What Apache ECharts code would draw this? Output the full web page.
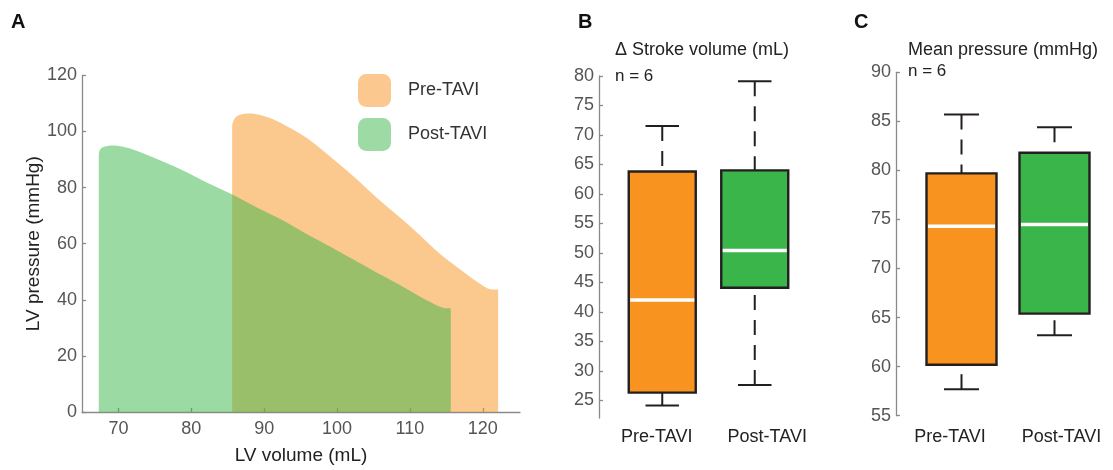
<!DOCTYPE html>
<html>
<head>
<meta charset="utf-8">
<script src="https://cdn.jsdelivr.net/npm/echarts@6/dist/echarts.min.js"></script>
<style>
  html, body { margin: 0; padding: 0; background: #fff; }
  #main { width: 1113px; height: 470px; }
</style>
</head>
<body>
<div id="main"></div>
<script>
// A: pressure-volume loops (upper edge, closed to 0)
var preVolume = [85.6, 85.6, 86.0, 86.7, 88.1, 90.8, 93.1, 95.8, 99.0, 102.2, 105.4, 108.6, 111.4, 114.1, 116.9, 119.6, 121.2, 122.1, 122.1];
var prePressure = [0, 101.9, 104.8, 106.0, 106.4, 104.8, 101.9, 97.8, 91.2, 84.1, 76.5, 69.4, 62.9, 56.4, 50.8, 45.7, 43.7, 43.7, 0];
var postVolume = [67.3, 67.3, 67.7, 69.3, 71.6, 74.8, 78.5, 82.1, 85.5, 89.0, 92.2, 95.4, 100.0, 104.5, 109.1, 112.3, 114.6, 115.6, 115.6];
var postPressure = [0, 91.8, 94.2, 95.0, 93.9, 90.7, 86.5, 81.8, 77.7, 72.9, 68.8, 64.1, 57.6, 51.1, 44.6, 39.8, 37.1, 36.9, 0];
var volumeTicks = [70, 80, 90, 100, 110, 120];

// B, C: box stats [low, q1, median, q3, high]
var groups = ['Pre-TAVI', 'Post-TAVI'];
var strokeStats = [[24.1, 26.3, 42.0, 63.8, 71.5], [27.6, 44.1, 50.4, 64.0, 79.1]];
var pressureStats = [[57.7, 60.2, 74.3, 79.7, 85.7], [63.2, 65.4, 74.5, 81.8, 84.4]];
var strokeTicks = [25, 30, 35, 40, 45, 50, 55, 60, 65, 70, 75, 80];

var boxColors = ['#F7931E', '#39B54A'];
var ink = '#231F20';
var axisGray = '#8a8a8a';
var labelGray = '#555';

function zip(xs, ys) {
  return xs.map(function (x, i) { return [x, ys[i]]; });
}

function boxData(stats) {
  return stats.map(function (s, i) { return [i].concat(s); });
}

function boxRenderer(boxW) {
  return function (params, api) {
    var cat = api.value(0);
    var low = api.coord([cat, api.value(1)]);
    var q1 = api.coord([cat, api.value(2)]);
    var med = api.coord([cat, api.value(3)]);
    var q3 = api.coord([cat, api.value(4)]);
    var high = api.coord([cat, api.value(5)]);
    var x = low[0];
    var dash = { stroke: ink, lineWidth: 2, lineDash: [15, 10] };
    var solid = { stroke: ink, lineWidth: 2 };
    return {
      type: 'group',
      children: [
        { type: 'line', shape: { x1: x, y1: high[1], x2: x, y2: q3[1] }, style: dash },
        { type: 'line', shape: { x1: x, y1: low[1], x2: x, y2: q1[1] }, style: dash },
        { type: 'line', shape: { x1: x - boxW / 4, y1: high[1], x2: x + boxW / 4, y2: high[1] }, style: solid },
        { type: 'line', shape: { x1: x - boxW / 4, y1: low[1], x2: x + boxW / 4, y2: low[1] }, style: solid },
        { type: 'rect', shape: { x: x - boxW / 2, y: q3[1], width: boxW, height: q1[1] - q3[1] },
          style: { fill: boxColors[cat], stroke: ink, lineWidth: 2.4 } },
        { type: 'line', shape: { x1: x - boxW / 2 + 1.5, y1: med[1], x2: x + boxW / 2 - 1.5, y2: med[1] },
          style: { stroke: '#fff', lineWidth: 3.5 } }
      ]
    };
  };
}

// category labels sit a little off the box centres in the original
function groupLabel(padPre, padPost, margin) {
  var txt = { fontSize: 18, color: '#222', fontFamily: 'Liberation Sans, Arial, sans-serif' };
  return {
    interval: 0, margin: margin, color: '#222', fontSize: 18,
    formatter: function (v, i) { return i === 0 ? '{a|' + v + '}' : '{b|' + v + '}'; },
    rich: {
      a: Object.assign({ padding: [0, padPre, 0, 0] }, txt),
      b: Object.assign({ padding: [0, 0, 0, padPost] }, txt)
    }
  };
}

var chart = echarts.init(document.getElementById('main'));

var valueAxisBase = {
  axisLine: { show: true, lineStyle: { color: axisGray, width: 1.3 } },
  axisTick: { show: true, inside: true, length: 4, lineStyle: { color: axisGray, width: 1.3 } },
  axisLabel: { color: labelGray, fontSize: 18, margin: 5 },
  splitLine: { show: false }
};

function merge(a, b) { return Object.assign({}, a, b); }

var letterStyle = { fontSize: 20, fontWeight: 'bold', color: '#111' };
var headStyle = { fontSize: 18, fontWeight: 'normal', color: '#222' };
var nStyle = { fontSize: 17, fontWeight: 'normal', color: '#222' };

var option = {
  animation: false,
  textStyle: { fontFamily: 'Liberation Sans, Arial, sans-serif' },
  title: [
    { text: 'A', left: 11, top: 12, padding: 0, textStyle: letterStyle },
    { text: 'B', left: 578, top: 12, padding: 0, textStyle: letterStyle },
    { text: 'C', left: 854, top: 12, padding: 0, textStyle: letterStyle },
    { text: 'Δ Stroke volume (mL)', left: 615, top: 41, padding: 0, textStyle: headStyle },
    { text: 'n = 6', left: 615, top: 68, padding: 0, textStyle: nStyle },
    { text: 'Mean pressure (mmHg)', left: 908, top: 41, padding: 0, textStyle: headStyle },
    { text: 'n = 6', left: 908, top: 63, padding: 0, textStyle: nStyle }
  ],
  legend: {
    orient: 'vertical',
    left: 358,
    top: 74,
    padding: 0,
    itemWidth: 33,
    itemHeight: 33,
    itemGap: 11,
    icon: 'roundRect',
    textStyle: { fontSize: 18, color: '#333', padding: [0, 0, 0, 12] },
    data: [
      { name: 'Pre-TAVI', itemStyle: { color: '#FBC98F', borderWidth: 0 } },
      { name: 'Post-TAVI', itemStyle: { color: '#9DDAA4', borderWidth: 0 } }
    ]
  },
  grid: [
    { left: 82, top: 75.4, width: 438, height: 338.6 },
    { left: 616, top: 76, width: 185, height: 342 },
    { left: 915, top: 72.3, width: 186, height: 343.4 }
  ],
  xAxis: [
    merge(valueAxisBase, {
      type: 'value', gridIndex: 0, min: 65, max: 125.1,
      name: 'LV volume (mL)', nameLocation: 'middle', nameGap: 34,
      nameTextStyle: { fontSize: 19, color: '#222' },
      axisTick: { show: true, inside: true, length: 4, customValues: volumeTicks, lineStyle: { color: axisGray, width: 1.3 } },
      axisLabel: { color: labelGray, fontSize: 18, margin: 8, customValues: volumeTicks }
    }),
    {
      type: 'category', gridIndex: 1, data: groups,
      axisLine: { show: false }, axisTick: { show: false },
      axisLabel: groupLabel(11, 25, 10)
    },
    {
      type: 'category', gridIndex: 2, data: groups,
      axisLine: { show: false }, axisTick: { show: false },
      axisLabel: groupLabel(23, 14, 12)
    }
  ],
  yAxis: [
    merge(valueAxisBase, {
      type: 'value', gridIndex: 0, min: 0, max: 120, interval: 20,
      name: 'LV pressure (mmHg)', nameLocation: 'middle', nameGap: 38,
      nameTextStyle: { fontSize: 19, color: '#222' }
    }),
    merge(valueAxisBase, {
      type: 'value', gridIndex: 1, min: 22, max: 80, offset: 17,
      axisTick: { show: true, inside: true, length: 4, customValues: strokeTicks, lineStyle: { color: axisGray, width: 1.3 } },
      axisLabel: { color: labelGray, fontSize: 18, margin: 5, customValues: strokeTicks }
    }),
    merge(valueAxisBase, {
      type: 'value', gridIndex: 2, min: 55, max: 90, interval: 5, offset: 19
    })
  ],
  series: [
    {
      name: 'Pre-TAVI', type: 'line', xAxisIndex: 0, yAxisIndex: 0,
      data: zip(preVolume, prePressure), symbol: 'none', smooth: 0.3,
      color: '#F7931E',
      lineStyle: { width: 0 },
      areaStyle: { color: '#F7931E', opacity: 0.5 }
    },
    {
      name: 'Post-TAVI', type: 'line', xAxisIndex: 0, yAxisIndex: 0,
      data: zip(postVolume, postPressure), symbol: 'none', smooth: 0.3,
      color: '#39B54A',
      lineStyle: { width: 0 },
      areaStyle: { color: '#39B54A', opacity: 0.5 }
    },
    {
      type: 'custom', xAxisIndex: 1, yAxisIndex: 1,
      renderItem: boxRenderer(67),
      data: boxData(strokeStats)
    },
    {
      type: 'custom', xAxisIndex: 2, yAxisIndex: 2,
      renderItem: boxRenderer(70),
      data: boxData(pressureStats)
    }
  ]
};

chart.setOption(option);
</script>
</body>
</html>
